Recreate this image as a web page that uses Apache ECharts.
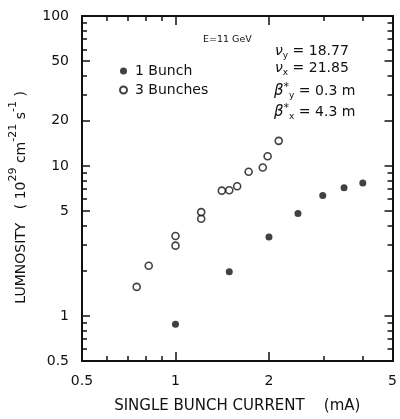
<!DOCTYPE html>
<html>
<head>
<meta charset="utf-8">
<script src="https://cdn.jsdelivr.net/npm/echarts@6/dist/echarts.min.js"></script>
<style>
  html, body { margin: 0; padding: 0; background: #fff; }
  #chart { width: 400px; height: 419px; }
</style>
</head>
<body>
<div id="chart"></div>
<script>
// 1 bunch (filled dots)
const oneBunchCurrent = [1.00, 1.49, 2.00, 2.48, 2.98, 3.49, 4.01];
const oneBunchLum = [0.88, 1.97, 3.36, 4.81, 6.34, 7.16, 7.69];

// 3 bunches (open circles)
const threeBunchCurrent = [0.75, 0.82, 1.00, 1.00, 1.21, 1.21, 1.41, 1.49, 1.58, 1.72, 1.91, 1.98, 2.15];
const threeBunchLum = [1.56, 2.16, 2.94, 3.41, 4.44, 4.92, 6.84, 6.88, 7.32, 9.14, 9.77, 11.6, 14.7];

// axis ticks and labels
const xLabels = [0.5, 1, 2, 5];
const xMajorTicks = [1, 2];
const xMinorTicks = [0.6, 0.7, 0.8, 0.9, 3, 4];
const yLabels = [0.5, 1, 5, 10, 20, 50, 100];
const yMajorTicks = [1, 5, 10, 20, 50];
const yMinorTicks = [0.6, 0.7, 0.8, 0.9, 2, 3, 4, 6, 7, 8, 9, 30, 40, 60, 70, 80, 90];

const FONT = 'DejaVu Sans';
const INK = '#111';

function pairs(xs, ys) {
  return xs.map((x, i) => [x, ys[i]]);
}

function fmt(v) {
  return String(+Number(v).toPrecision(3));
}

// one log axis for a side; ticks inward, labels only on the main one
function logAxis(min, max, position, ticks, tickLen, labels, extra) {
  return Object.assign({
    type: 'log',
    logBase: 10,
    min: min,
    max: max,
    position: position,
    axisLine: { show: true, lineStyle: { color: INK, width: 2 } },
    axisTick: {
      show: true,
      inside: true,
      length: tickLen,
      customValues: ticks,
      lineStyle: { color: INK, width: 1.5 }
    },
    axisLabel: labels ? {
      show: true,
      customValues: labels,
      formatter: fmt,
      color: INK,
      fontFamily: FONT,
      fontSize: 14,
      margin: 13
    } : { show: false },
    splitLine: { show: false },
    minorTick: { show: false }
  }, extra || {});
}

// rich styles for the parameter block
function paramRich(gSize) {
  return {
    g: { fontFamily: FONT, fontSize: gSize, fontStyle: 'italic', fill: INK, lineHeight: 18 },
    sup: { fontFamily: FONT, fontSize: 11, fill: INK, verticalAlign: 'top', lineHeight: 18 },
    sub: { fontFamily: FONT, fontSize: 9, fill: INK, verticalAlign: 'bottom', lineHeight: 18 },
    t: { fontFamily: FONT, fontSize: 14, fill: INK, lineHeight: 18 }
  };
}

const chart = echarts.init(document.getElementById('chart'));

const option = {
  animation: false,
  backgroundColor: '#fff',
  grid: { left: 82, right: 7, top: 16, bottom: 56 },
  legend: {
    orient: 'vertical',
    left: 114,
    top: 59,
    itemWidth: 7,
    itemHeight: 7,
    itemGap: 5,
    data: ['1 Bunch', '3 Bunches'],
    textStyle: { color: INK, fontFamily: FONT, fontSize: 14, padding: [0, 0, 0, 3] }
  },
  xAxis: [
    logAxis(0.5, 5, 'bottom', xMajorTicks, 9, xLabels, {
      name: 'SINGLE BUNCH CURRENT    (mA)',
      nameLocation: 'middle',
      nameGap: 38,
      nameTextStyle: { color: INK, fontFamily: FONT, fontSize: 15 }
    }),
    logAxis(0.5, 5, 'bottom', xMinorTicks, 5, null),
    logAxis(0.5, 5, 'top', xMajorTicks, 9, null),
    logAxis(0.5, 5, 'top', xMinorTicks, 5, null)
  ],
  yAxis: [
    logAxis(0.5, 100, 'left', yMajorTicks, 8, yLabels, {
      name: '{t|LUMNOSITY   ( 10}{sup|29}{t| cm}{sup|-21}{t| s}{sup|-1}{t| )    }',
      nameLocation: 'middle',
      nameGap: 54,
      nameTextStyle: {
        color: INK,
        fontFamily: FONT,
        rich: {
          t: { fontFamily: FONT, fontSize: 14, color: INK, lineHeight: 20, verticalAlign: 'bottom' },
          sup: { fontFamily: FONT, fontSize: 11, color: INK, lineHeight: 20, verticalAlign: 'top' }
        }
      }
    }),
    logAxis(0.5, 100, 'left', yMinorTicks, 5, null),
    logAxis(0.5, 100, 'right', yMajorTicks, 8, null),
    logAxis(0.5, 100, 'right', yMinorTicks, 5, null)
  ],
  series: [
    {
      name: '1 Bunch',
      type: 'scatter',
      symbol: 'circle',
      symbolSize: 7,
      itemStyle: { color: INK },
      data: pairs(oneBunchCurrent, oneBunchLum)
    },
    {
      name: '3 Bunches',
      type: 'scatter',
      symbol: 'circle',
      symbolSize: 7,
      itemStyle: { color: '#fff', borderColor: INK, borderWidth: 1.6 },
      data: pairs(threeBunchCurrent, threeBunchLum)
    }
  ],
  graphic: [
    {
      type: 'text', left: 203, top: 35,
      style: { text: 'E=11 GeV', fontFamily: FONT, fontSize: 9.5, fill: INK }
    },
    {
      type: 'text', left: 275, top: 44,
      style: { text: '{g|ν}{sub|y}{t| = 18.77}', rich: paramRich(14) }
    },
    {
      type: 'text', left: 275, top: 61,
      style: { text: '{g|ν}{sub|x}{t| = 21.85}', rich: paramRich(14) }
    },
    {
      type: 'text', left: 274, top: 82,
      style: { text: '{g|β}{sup|*}{sub|y}{t| = 0.3 m}', rich: paramRich(15) }
    },
    {
      type: 'text', left: 274, top: 103,
      style: { text: '{g|β}{sup|*}{sub|x}{t| = 4.3 m}', rich: paramRich(15) }
    }
  ]
};

chart.setOption(option);
</script>
</body>
</html>
